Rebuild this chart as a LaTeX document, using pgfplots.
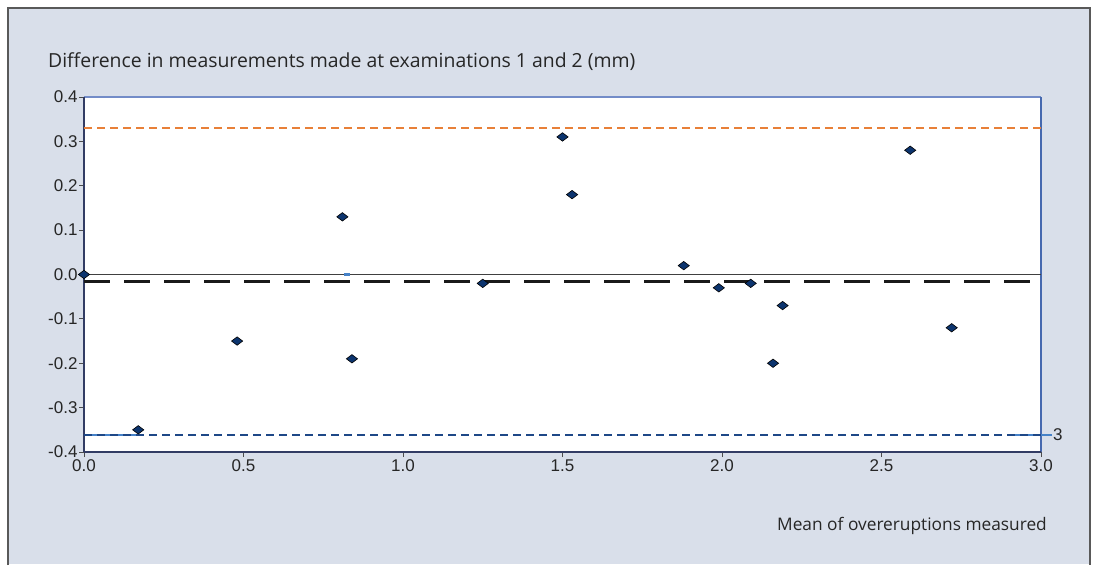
\documentclass[border=0pt]{standalone}
\usepackage{pgfplots}
\pgfplotsset{compat=1.18}
\usepackage{fontspec}
\setmainfont{Liberation Sans}
\newfontfamily\titlefont{Open Sans}
\definecolor{panel}{RGB}{217,223,234}
\definecolor{navy}{RGB}{12,52,110}
\definecolor{orangeline}{RGB}{232,128,56}
\definecolor{blueline}{RGB}{30,72,135}
\definecolor{lightblue}{RGB}{70,130,200}
\definecolor{boxblue}{RGB}{70,105,175}
\definecolor{boxtop}{RGB}{115,140,200}
\definecolor{boxleft}{RGB}{50,60,100}

\pgfplotstableread{
x y
0.00 0.00
0.17 -0.35
0.48 -0.15
0.81 0.13
0.84 -0.19
1.25 -0.02
1.50 0.31
1.53 0.18
1.88 0.02
1.99 -0.03
2.09 -0.02
2.16 -0.20
2.19 -0.07
2.59 0.28
2.72 -0.12
}\datatable

\begin{document}
\begin{tikzpicture}[x=1pt,y=1pt]
% background: pixel (px,py) -> (px-84, 452-py)
\fill[white] (-84,-111) rectangle (1013,452);
\fill[panel] (-76,-112) rectangle (1006,444);
\draw[black!65, line width=1.4] (-76,-113) -- (-76,444) -- (1006,444) -- (1006,-113);
\node[anchor=west, text=black!85, font=\titlefont\fontsize{19.4}{22}\selectfont, inner sep=0] at (-36,390) {Difference in measurements made at examinations 1 and 2 (mm)};
\node[anchor=east, text=black!85, font=\titlefont\fontsize{17.3}{20}\selectfont, inner sep=0] at (963,-74) {Mean of overeruptions measured};
\begin{axis}[
  at={(0,0)}, anchor=south west,
  scale only axis, width=957pt, height=355pt,
  xmin=0, xmax=3, ymin=-0.4, ymax=0.4,
  clip=false,
  axis background/.style={fill=white},
  axis line style={draw=none},
  xtick={0,0.5,1,1.5,2,2.5,3},
  ytick={-0.4,-0.3,-0.2,-0.1,0,0.1,0.2,0.3,0.4},
  tick pos=left, tick align=outside,
  major tick length=5pt,
  tick style={black!70, line width=0.8},
  ticklabel style={font=\fontsize{17}{20}\selectfont, text=black!85},
  /pgf/number format/assume math mode=true,
  /pgf/number format/.cd, fixed, fixed zerofill, precision=1, /tikz/.cd,
  xticklabel style={yshift=1pt},
  yticklabel style={xshift=2pt},
]
% frame
\draw[boxtop, line width=1.2] (rel axis cs:0,1) -- (rel axis cs:1,1);
\draw[boxblue, line width=1.2] (rel axis cs:1,1) -- (rel axis cs:1,0);
\draw[boxleft, line width=1.2] (rel axis cs:0,0) -- (rel axis cs:1,0);
\draw[boxleft, line width=1.2] (rel axis cs:0,0) -- (rel axis cs:0,1);
% reference lines
\addplot[black!75, line width=1.0] coordinates {(0,0) (3,0)};
\addplot[orangeline, line width=1.5, dash pattern=on 8pt off 5pt] coordinates {(0,0.33) (3,0.33)};
\addplot[lightblue, line width=1.5] coordinates {(0,-0.362) (0.17,-0.362)};
\addplot[lightblue, line width=1.5] coordinates {(2.92,-0.362) (3.035,-0.362)};
\addplot[blueline, line width=1.5, dash pattern=on 8pt off 5pt] coordinates {(0,-0.362) (3,-0.362)};
\addplot[black!90, line width=3.5, dash pattern=on 26pt off 14pt] coordinates {(0,-0.016) (3,-0.016)};
\addplot[lightblue, line width=2.5] coordinates {(0.815,0.0) (0.835,0.0)};
\node[anchor=west, font=\fontsize{17}{20}\selectfont, text=black!85, inner sep=0] at (axis cs:3.037,-0.362) {3};
% data
\addplot[only marks, mark=diamond*, mark size=5.6pt,
  mark options={rotate=90, fill=navy, draw=black, line width=0.6}]
  table[x=x, y=y] {\datatable};
\end{axis}
\end{tikzpicture}
\end{document}
